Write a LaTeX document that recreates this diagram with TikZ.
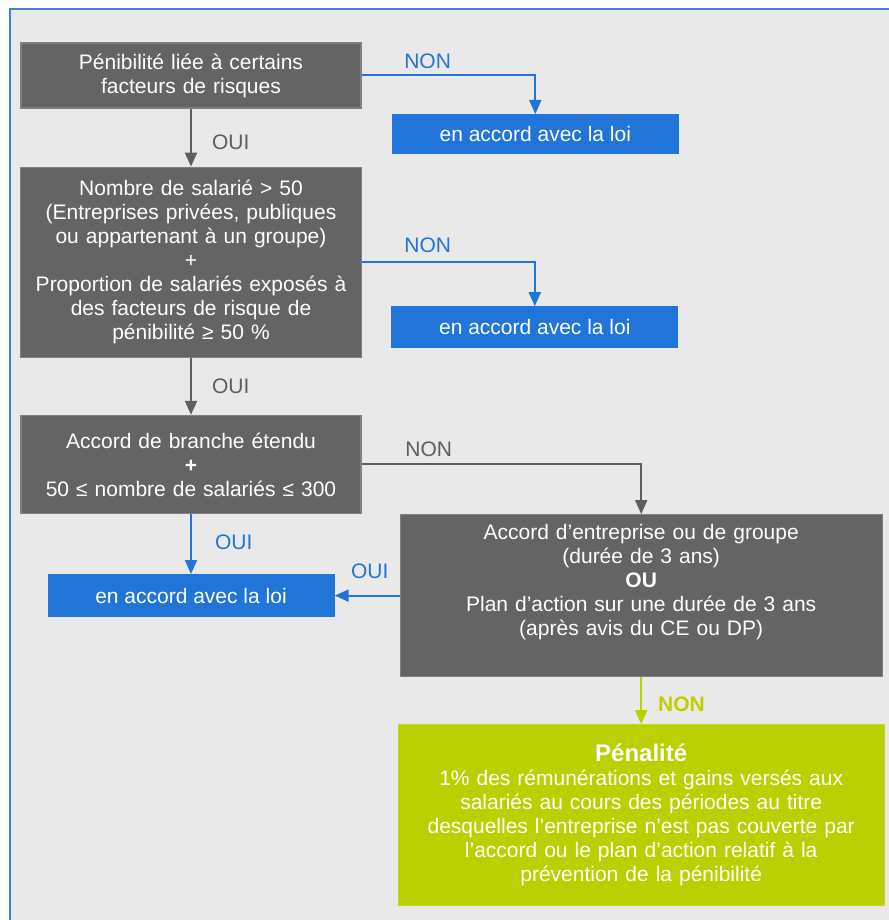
\documentclass[tikz,border=0pt]{standalone}
\usepackage{fontspec}
\setmainfont{Liberation Sans}
\usetikzlibrary{positioning,arrows.meta}

\definecolor{boxgray}{HTML}{646464}
\definecolor{edgegray}{HTML}{808080}
\definecolor{arrgray}{HTML}{5E5E5E}
\definecolor{loiblue}{HTML}{2175D9}
\definecolor{penlime}{HTML}{BBD000}
\definecolor{bggray}{HTML}{E9E9E9}
\definecolor{framecol}{HTML}{3F80D8}

\begin{document}
\begin{tikzpicture}[x=1pt, y=1pt,
  font=\fontsize{21}{24}\selectfont,
  test/.style = {draw=edgegray, line width=1.2pt, fill=boxgray, text=white,
    align=center, inner sep=0pt},
  loi/.style = {fill=loiblue, text=white, minimum width=287pt,
    minimum height=42pt, inner sep=0pt},
  pen/.style = {draw=penlime!85!white, line width=1.2pt, fill=penlime,
    text=white, align=center, inner sep=0pt},
  lbl/.style = {inner sep=0pt, text height=15pt, text depth=0pt},
  arr/.style = {line width=2pt, -{Triangle[width=12pt,length=14pt]}}
  ]
  \useasboundingbox (0,0) rectangle (888,-920);
  \fill [white] (0,0) rectangle (888,-920);
  \draw [framecol, line width=1.5pt, fill=bggray] (10,-9) rectangle (905,-940);

  \node (q1) [test, text width=340pt, minimum height=65pt] at (191,-75.5)
    {Pénibilité liée à certains\\ facteurs de risques};
  \node (loi1) [loi, minimum height=40pt, below right=38.5pt and 30pt of q1.east]
    {en accord avec la loi};
  \node (q2) [test, text width=341pt, minimum height=190pt, below=58pt of q1]
    {Nombre de salarié > 50\\ (Entreprises privées, publiques\\
     ou appartenant à un groupe)\\ +\\ Proportion de salariés exposés à\\
     des facteurs de risque de\\ pénibilité ≥ 50 \%};
  \node (loi2) [loi, below right=44pt and 29pt of q2.east] {en accord avec la loi};
  \node (q3) [test, text width=340pt, minimum height=98pt, below=57pt of q2]
    {Accord de branche étendu\\ \textbf{+}\\ 50 ≤ nombre de salariés ≤ 300};
  \node (q4) [test, text width=482pt, minimum height=162pt,
    right=38pt of q3.south east, anchor=north west]
    {Accord d’entreprise ou de groupe\\ (durée de 3 ans)\\ \textbf{OU}\\
     Plan d’action sur une durée de 3 ans\\ (après avis du CE ou DP)\\ \strut};
  \node (loi3) [loi, minimum height=43pt, below=60pt of q3] {en accord avec la loi};
  \node (pen) [pen, text width=486pt, minimum height=181pt, below=47pt of q4]
    {{\fontsize{24}{26}\selectfont\bfseries Pénalité}\\
     1\% des rémunérations et gains versés aux\\
     salariés au cours des périodes au titre\\
     desquelles l’entreprise n’est pas couverte par\\
     l’accord ou le plan d’action relatif à la\\
     prévention de la pénibilité};

  \draw [arr, arrgray] (q1) -- node [lbl, pos=0.57, right=20pt] {OUI} (q2);
  \draw [arr, loiblue] (q1) -| node [lbl, pos=0.19, above=5.5pt] {NON} (loi1);
  \draw [arr, loiblue] (q2) -| node [lbl, pos=0.19, above=8.5pt] {NON} (loi2);
  \draw [arr, arrgray] (q2) -- node [lbl, pos=0.5, right=20pt] {OUI} (q3);
  \draw [arr, arrgray] (q3) -| node [lbl, pos=0.12, above=6.5pt] {NON} (q4);
  \draw [arr, loiblue] (q3) -- node [lbl, pos=0.47, right=23pt] {OUI} (loi3);
  \draw [arr, loiblue] (q4.west) -- node [lbl, pos=0.46, above=16pt] {OUI}
    (loi3.east |- q4.west);
  \draw [arr, penlime] (q4) -- node [lbl, pos=0.57, right=16pt,
    font=\fontsize{21}{24}\selectfont\bfseries] {NON} (pen);
\end{tikzpicture}
\end{document}
